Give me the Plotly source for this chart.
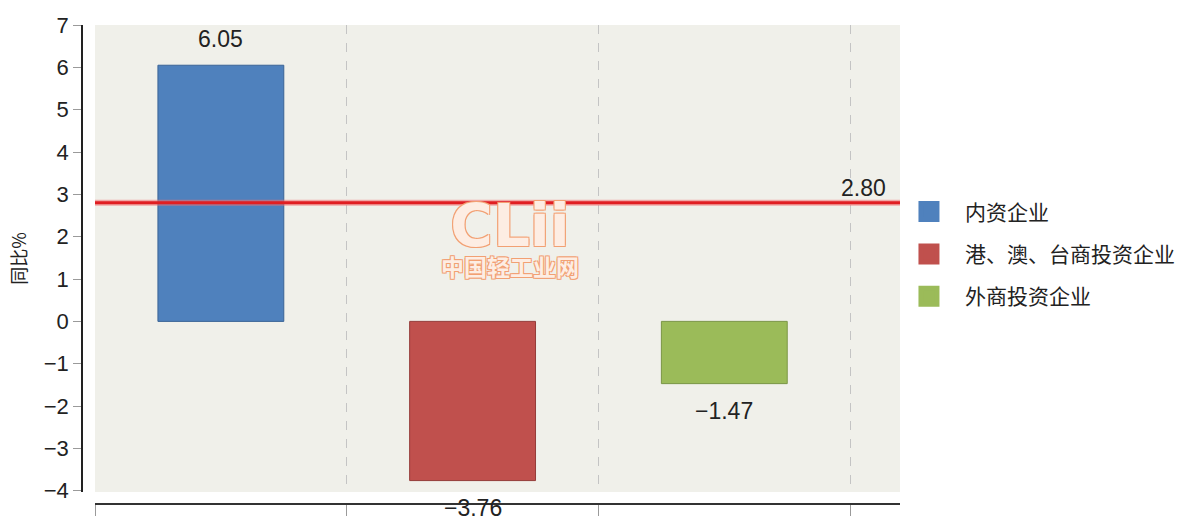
import plotly.graph_objects as go

categories = ["内资企业", "港、澳、台商投资企业", "外商投资企业"]
values = [6.05, -3.76, -1.47]
average_value = 2.80
y_ticks = list(range(-4, 8))
y_title = "同比%"
watermark_logo = "CLii"
watermark_name = "中国轻工业网"

colors = ["#4F81BD", "#C0504D", "#9BBB59"]
borders = ["#3B6496", "#943B39", "#7A9646"]

NUM_FONT = "Liberation Sans, Arial, sans-serif"
CJK_FONT = "Noto Sans CJK SC, sans-serif"

fig = go.Figure()
for i, (cat, val) in enumerate(zip(categories, values)):
    fig.add_trace(go.Bar(
        x=[i], y=[val], name=cat, width=0.5,
        marker=dict(color=colors[i], line=dict(color=borders[i], width=1)),
        legendgroup=cat, showlegend=False, hoverinfo="y",
    ))
# legend entries (larger square swatches)
for i, cat in enumerate(categories):
    fig.add_trace(go.Scatter(
        x=[None], y=[None], mode="markers", name=cat, legendgroup=cat,
        marker=dict(symbol="square", size=16, color=colors[i],
                    line=dict(color=colors[i], width=5)),
        hoverinfo="skip",
    ))

def fmt(v):
    s = f"{abs(v):.2f}"
    return ("\u2212" + s) if v < 0 else s

annotations = []
for i, val in enumerate(values):
    annotations.append(dict(
        x=i, y=val, xref="x", yref="y", text=fmt(val), showarrow=False,
        yanchor="bottom" if val >= 0 else "top",
        yshift=11 if val >= 0 else -12,
        font=dict(family=NUM_FONT, size=23, color="#222222"),
    ))
annotations.append(dict(
    x=1, y=average_value, xref="paper", yref="y", text=f"{average_value:.2f}",
    showarrow=False, xanchor="right", yanchor="bottom", xshift=-12, yshift=0,
    font=dict(family=NUM_FONT, size=23, color="#222222"),
))
outline = "-1px -1px 0 #F2A073, 1px -1px 0 #F2A073, -1px 1px 0 #F2A073, 1px 1px 0 #F2A073"
annotations.append(dict(
    x=0.523, y=0.0, xref="paper", yref="y",
    text=(f"<span style='font-size:58px;font-family:DejaVu Sans'><b>{watermark_logo}</b></span>"
          f"<br><b>{watermark_name}</b>"),
    showarrow=False, yanchor="middle", yshift=84,
    font=dict(family=CJK_FONT, size=23, color="#FDEDE3", shadow=outline),
))

shapes = [
    dict(type="line", xref="x domain", yref="y", x0=0, x1=1, y0=average_value, y1=average_value,
         line=dict(color="rgba(240,110,110,0.55)", width=6), layer="above"),
    dict(type="line", xref="x domain", yref="y", x0=0, x1=1, y0=average_value, y1=average_value,
         line=dict(color="#E01E22", width=3), layer="above"),
]

fig.update_layout(
    width=1186, height=516,
    margin=dict(l=82, r=286, t=25, b=12, autoexpand=False),
    paper_bgcolor="white",
    plot_bgcolor="#F0F0EA",
    font=dict(family=NUM_FONT, size=22, color="#222222"),
    xaxis=dict(
        domain=[0.0159, 1], range=[-0.5, 2.698], anchor="free", position=0,
        tickvals=[-0.5, 0.5, 1.5, 2.5], showticklabels=False,
        ticks="outside", ticklen=13, tickcolor="#9A9A9A", tickwidth=1,
        showgrid=True, gridcolor="#C4C4C4", griddash="dash", gridwidth=1,
        showline=True, linecolor="#333333", linewidth=2, zeroline=False,
        fixedrange=True, automargin=False,
    ),
    yaxis=dict(
        domain=[0.025, 1], range=[-4.03, 7.0], anchor="free", position=0,
        tickvals=y_ticks, ticks="outside", ticklen=8, tickcolor="#9A9A9A",
        showgrid=False, zeroline=False, showline=True, linecolor="#222222", linewidth=1.5,
        tickfont=dict(family=NUM_FONT, size=22, color="#222222"),
        title=dict(text=y_title, font=dict(family=CJK_FONT, size=18, color="#222222"), standoff=11),
        fixedrange=True, automargin=False,
    ),
    yaxis2=dict(
        domain=[0.025, 1], range=[-4.03, 7.0], anchor="free", position=0, overlaying="y",
        tickvals=y_ticks, ticks="inside", ticklen=8, tickcolor="#9A9A9A",
        showticklabels=False, showgrid=False, zeroline=False, showline=False,
        fixedrange=True, automargin=False,
    ),
    legend=dict(
        x=0.9914, y=0.522, xanchor="left", yanchor="middle",
        font=dict(family=CJK_FONT, size=21, color="#222222"),
        tracegroupgap=12, itemwidth=62, itemsizing="trace", bgcolor="rgba(0,0,0,0)",
    ),
    annotations=annotations,
    shapes=shapes,
    showlegend=True,
)

fig.write_html("out.html", config={"displayModeBar": False},
               post_script="document.body.style.margin='0';")
